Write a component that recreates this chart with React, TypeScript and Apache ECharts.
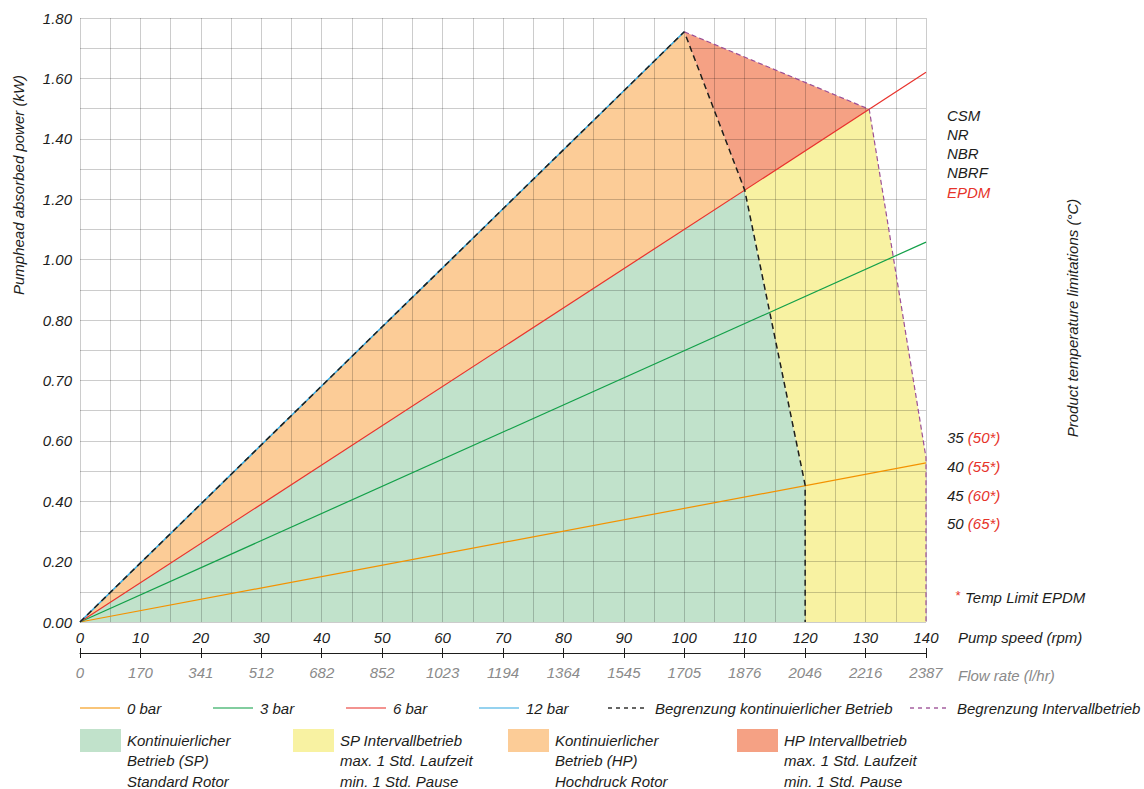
import React, { useEffect, useRef } from 'react';
import * as echarts from 'echarts';

// ---------- data ----------
const powerTickLabels = ['0.00', '0.20', '0.40', '0.60', '0.70', '0.80', '1.00', '1.20', '1.40', '1.60', '1.80'];
const flowTickLabels = ['0', '170', '341', '512', '682', '852', '1023', '1194', '1364', '1545', '1705', '1876', '2046', '2216', '2387'];

const bar0 = [[0, 0], [140, 0.474]];
const bar3 = [[0, 0], [140, 1.132]];
const bar6 = [[0, 0], [140, 1.638]];
const bar12 = [[0, 0], [100, 1.759]];
const limitContinuous = [[0, 0], [100, 1.759], [110, 1.287], [120, 0.408], [120, 0]];
const limitInterval = [[100, 1.759], [130.6, 1.528], [140, 0.49], [140, 0]];

const areaSP = [[0, 0], [110, 1.287], [120, 0.408], [120, 0]];
const areaSPInterval = [[110, 1.287], [130.6, 1.528], [140, 0.49], [140, 0], [120, 0], [120, 0.408]];
const areaHP = [[0, 0], [100, 1.759], [110, 1.287]];
const areaHPInterval = [[100, 1.759], [130.6, 1.528], [110, 1.287]];

const materials = ['CSM', 'NR', 'NBR', 'NBRF'];
const materialEPDM = 'EPDM';
const tempStandard = ['35', '40', '45', '50'];
const tempEPDM = ['(50*)', '(55*)', '(60*)', '(65*)'];

const lineLegendNames = ['0 bar', '3 bar', '6 bar', '12 bar', 'Begrenzung kontinuierlicher Betrieb', 'Begrenzung Intervallbetrieb'];
const areaLegendNames = [
  ['Kontinuierlicher', 'Betrieb (SP)', 'Standard Rotor'],
  ['SP Intervallbetrieb', 'max. 1 Std. Laufzeit', 'min. 1 Std. Pause'],
  ['Kontinuierlicher', 'Betrieb (HP)', 'Hochdruck Rotor'],
  ['HP Intervallbetrieb', 'max. 1 Std. Laufzeit', 'min. 1 Std. Pause'],
];

// ---------- styles ----------
const FONT = '"Liberation Sans", Arial, Helvetica, sans-serif';
const TEXT = '#1d1d1b';
const GREY = '#8a8a8a';
const RED = '#e6332a';
const C_ORANGE = '#f39200';
const C_GREEN = '#13a049';
const C_RED = '#e8322c';
const C_BLUE = '#36a9e1';
const C_BLACK = '#1d1d1b';
const C_PURPLE = '#9b4f96';
const F_GREEN = '#c1e2cb';
const F_YELLOW = '#f8f2a2';
const F_ORANGE = '#fccc97';
const F_SALMON = '#f5a184';
const GRIDLINE = 'rgba(0,0,0,0.2)';

const lineLegendColors = [C_ORANGE, C_GREEN, C_RED, C_BLUE, C_BLACK, C_PURPLE];
const lineLegendDash = [false, false, false, false, true, true];
const lineLegendX = [80, 213, 346, 479, 608, 910];
const areaLegendColors = [F_GREEN, F_YELLOW, F_ORANGE, F_SALMON];
const areaLegendX = [80, 293, 508, 737];

function polygonSeries(name: string, poly: number[][], fill: string) {
  return {
    type: 'custom',
    name,
    xAxisIndex: 0,
    yAxisIndex: 0,
    z: 1,
    clip: true,
    silent: true,
    data: poly,
    renderItem: (params: any, api: any) => {
      if (params.dataIndex !== 0) return null;
      const pts = poly.map((p) => api.coord(p));
      return { type: 'polygon', shape: { points: pts }, style: { fill, stroke: null } };
    },
  };
}

function lineSeries(name: string, data: number[][], color: string, width: number, dash?: number[]) {
  return {
    type: 'line',
    name,
    xAxisIndex: 0,
    yAxisIndex: 0,
    z: 10,
    symbol: 'none',
    silent: true,
    data,
    lineStyle: { color, width, type: dash ? dash : 'solid' },
  };
}

function txt(text: string, x: number, y: number, extra: any = {}) {
  return {
    type: 'text',
    x,
    y,
    style: {
      text,
      fontFamily: FONT,
      fontSize: 15,
      fontStyle: 'italic',
      fill: TEXT,
      align: 'left',
      verticalAlign: 'middle',
      ...extra,
    },
  };
}

function buildGraphic() {
  const g: any[] = [];
  // axis titles
  g.push({ ...txt('Pumphead absorbed power (kW)', 18, 185, { align: 'center' }), rotation: Math.PI / 2 });
  g.push({ ...txt('Product temperature limitations (°C)', 1072, 318, { align: 'center' }), rotation: Math.PI / 2 });
  g.push(txt('Pump speed (rpm)', 958, 637));
  g.push(txt('Flow rate (l/hr)', 958, 675, { fill: GREY }));

  // materials
  materials.forEach((m, i) => g.push(txt(m, 947, 115 + i * 19.3)));
  g.push(txt(materialEPDM, 947, 115 + materials.length * 19.3, { fill: RED }));

  // temperatures
  const tempY = [437, 466, 495, 523];
  tempStandard.forEach((t, i) => {
    g.push({
      type: 'text',
      x: 947,
      y: tempY[i],
      style: {
        text: `{a|${t}} {b|${tempEPDM[i]}}`,
        fontFamily: FONT,
        fontSize: 15,
        fontStyle: 'italic',
        verticalAlign: 'middle',
        rich: {
          a: { fill: TEXT, fontFamily: FONT, fontSize: 15, fontStyle: 'italic' },
          b: { fill: RED, fontFamily: FONT, fontSize: 15, fontStyle: 'italic' },
        },
      },
    });
  });
  g.push(txt('*', 955, 595, { fill: RED, fontSize: 13 }));
  g.push(txt('Temp Limit EPDM', 965, 597));

  // legend – lines
  lineLegendNames.forEach((n, i) => {
    const x = lineLegendX[i];
    g.push({
      type: 'line',
      shape: { x1: x, y1: 708, x2: x + 40, y2: 708 },
      style: {
        stroke: lineLegendColors[i],
        lineWidth: 1.5,
        opacity: lineLegendDash[i] ? 0.9 : 0.7,
        lineDash: lineLegendDash[i] ? [4, 4] : null,
      },
    });
    g.push(txt(n, x + 47, 708));
  });

  // legend – areas
  areaLegendNames.forEach((lines, i) => {
    const x = areaLegendX[i];
    g.push({ type: 'rect', shape: { x, y: 729, width: 41, height: 23 }, style: { fill: areaLegendColors[i] } });
    lines.forEach((l, j) => g.push(txt(l, x + 47, 740 + j * 20.5, { lineHeight: 16 })));
  });
  return g;
}

const labelFont = { fontFamily: FONT, fontSize: 15, fontStyle: 'italic' as const };

const option: any = {
  animation: false,
  backgroundColor: '#ffffff',
  grid: { left: 80, right: 218, top: 18, bottom: 167, containLabel: false },
  xAxis: [
    {
      type: 'value',
      min: 0,
      max: 140,
      interval: 10,
      z: 5,
      axisLine: { show: false },
      axisTick: { show: false },
      axisLabel: { ...labelFont, color: TEXT, margin: 8, showMinLabel: true, showMaxLabel: true },
      splitLine: { show: true, lineStyle: { color: GRIDLINE, width: 1 } },
      minorTick: { show: false, splitNumber: 2 },
      minorSplitLine: { show: true, lineStyle: { color: GRIDLINE, width: 1 } },
    },
    {
      type: 'value',
      position: 'bottom',
      offset: 31,
      min: 0,
      max: 140,
      interval: 10,
      z: 5,
      axisLine: { show: true, lineStyle: { color: '#1d1d1b', width: 1 } },
      axisTick: { show: true, inside: false, length: 5, lineStyle: { color: '#1d1d1b', width: 1 } },
      axisLabel: {
        ...labelFont,
        color: GREY,
        margin: 12,
        showMinLabel: true,
        showMaxLabel: true,
        formatter: (v: number) => flowTickLabels[Math.round(v / 10)] ?? '',
      },
      splitLine: { show: false },
    },
    {
      type: 'value',
      position: 'bottom',
      offset: 31,
      min: 0,
      max: 140,
      interval: 10,
      z: 5,
      axisLine: { show: false },
      axisTick: { show: true, inside: true, length: 5, lineStyle: { color: '#1d1d1b', width: 1 } },
      axisLabel: { show: false },
      splitLine: { show: false },
    },
  ],
  yAxis: [
    {
      type: 'value',
      min: 0,
      max: 1.8,
      interval: 0.18,
      z: 5,
      axisLine: { show: false },
      axisTick: { show: false },
      axisLabel: {
        ...labelFont,
        color: TEXT,
        margin: 8,
        padding: [0, 0, 10, 0],
        showMinLabel: true,
        showMaxLabel: true,
        formatter: (v: number) => powerTickLabels[Math.round(v / 0.18)] ?? '',
      },
      splitLine: { show: true, lineStyle: { color: GRIDLINE, width: 1 } },
      minorTick: { show: false, splitNumber: 2 },
      minorSplitLine: { show: true, lineStyle: { color: GRIDLINE, width: 1 } },
    },
  ],
  series: [
    polygonSeries('Kontinuierlicher Betrieb (SP)', areaSP, F_GREEN),
    polygonSeries('SP Intervallbetrieb', areaSPInterval, F_YELLOW),
    polygonSeries('Kontinuierlicher Betrieb (HP)', areaHP, F_ORANGE),
    polygonSeries('HP Intervallbetrieb', areaHPInterval, F_SALMON),
    lineSeries('0 bar', bar0, C_ORANGE, 1.2),
    lineSeries('3 bar', bar3, C_GREEN, 1.2),
    lineSeries('6 bar', bar6, C_RED, 1.2),
    lineSeries('12 bar', bar12, C_BLUE, 1.5),
    lineSeries('Begrenzung kontinuierlicher Betrieb', limitContinuous, C_BLACK, 1.5, [6, 4]),
    lineSeries('Begrenzung Intervallbetrieb', limitInterval, C_PURPLE, 1.2, [5, 3]),
  ],
  graphic: buildGraphic(),
};

export default function App() {
  const ref = useRef<HTMLDivElement>(null);
  useEffect(() => {
    if (!ref.current) return;
    const chart = echarts.init(ref.current, null, { renderer: 'svg' });
    chart.setOption(option);
    return () => chart.dispose();
  }, []);
  return (
    <div
      ref={ref}
      style={{ position: 'fixed', left: 0, top: 0, width: 1144, height: 789, background: '#fff' }}
    />
  );
}
